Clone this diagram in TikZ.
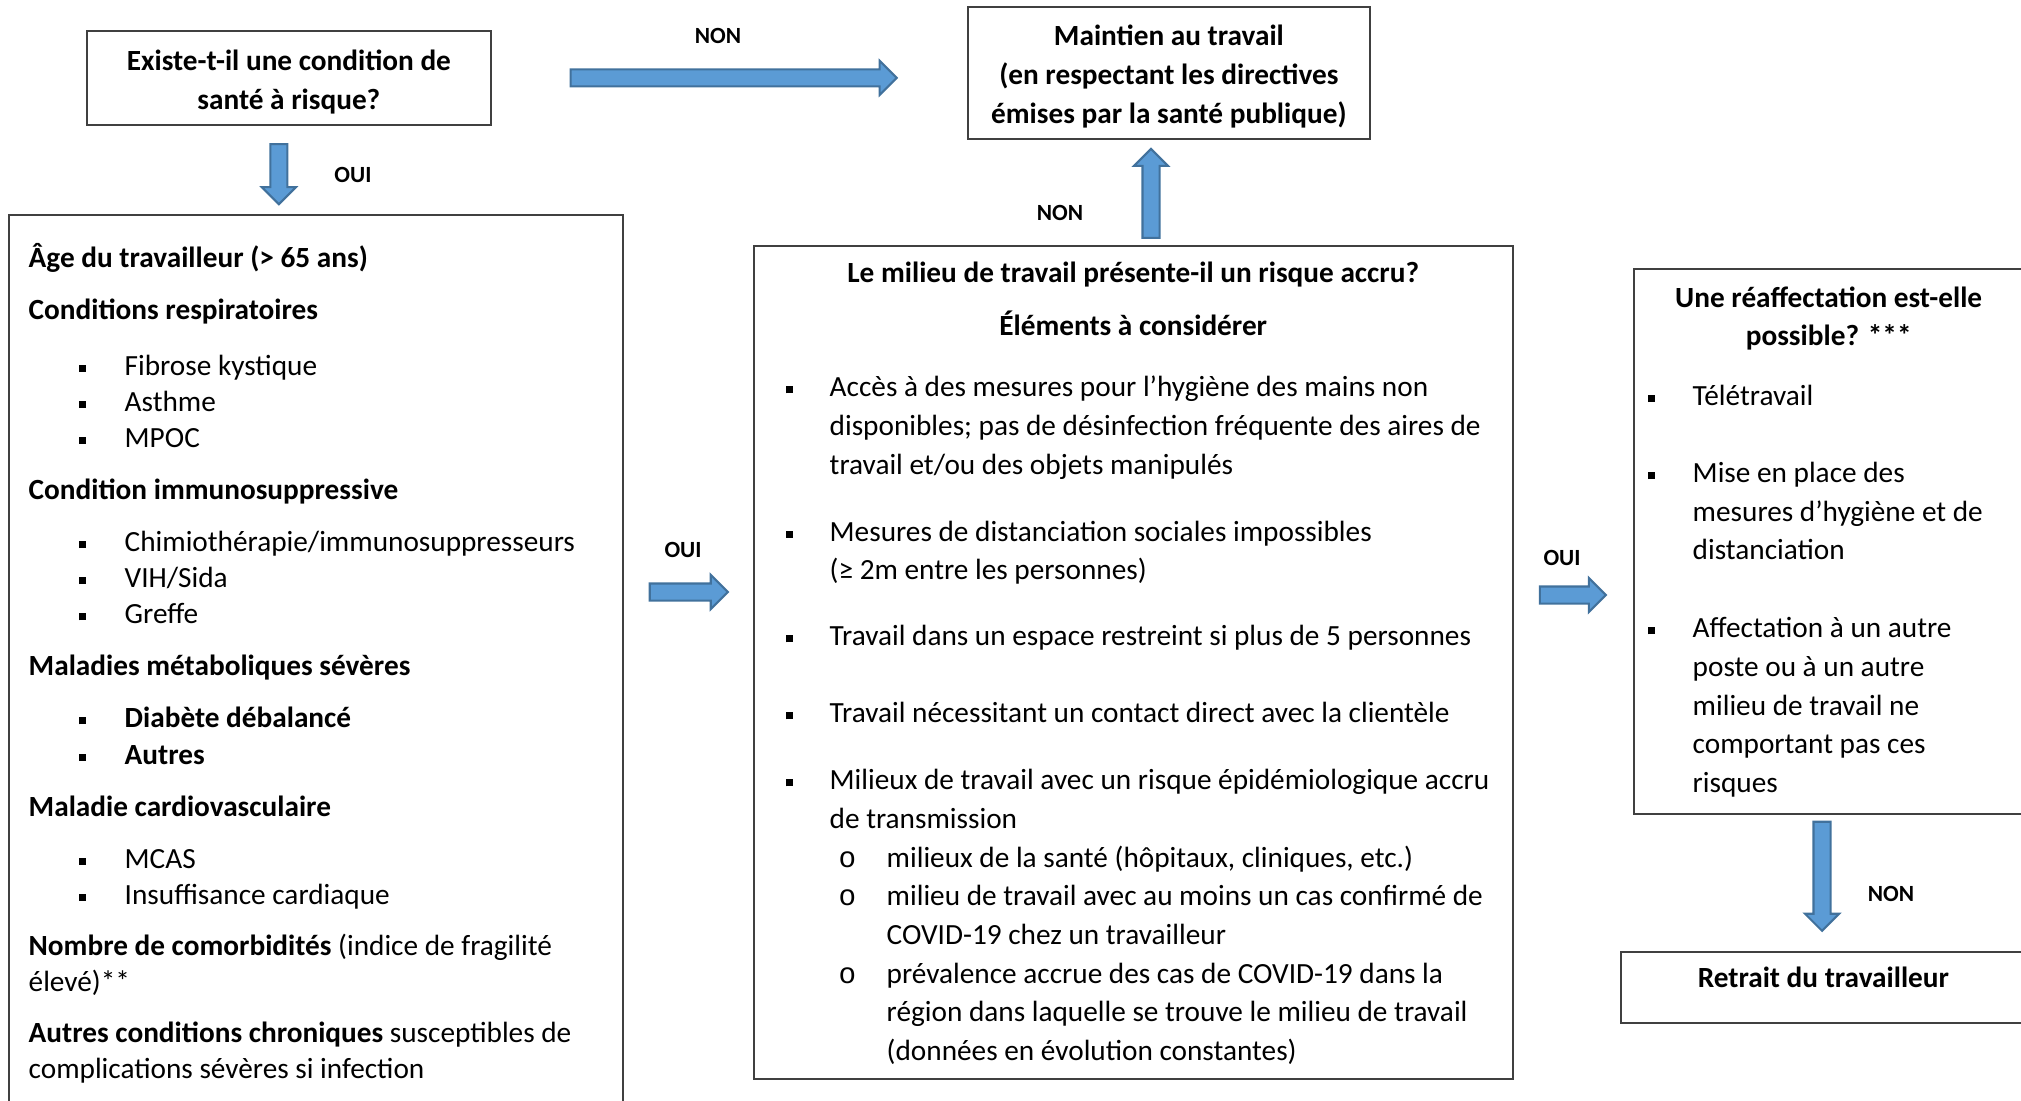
\documentclass[tikz,border=0pt]{standalone}
\usepackage{fontspec}
\setmainfont{Carlito}
\newfontfamily\monofnt{Liberation Mono}
\usetikzlibrary{shapes.arrows}
\definecolor{flblue}{HTML}{5B9BD5}
\definecolor{flline}{HTML}{41719C}
\newcommand{\nsp}{\spaceskip=0pt\xspaceskip=0pt\relax}
\newcommand{\sqb}{\rule[0.35mm]{0.7mm}{0.7mm}}
\newcommand{\itm}[2]{\hspace*{#1}\rlap{\sqb}\hspace*{#2}}
\newcommand{\subitm}[2]{\hspace*{#1}\rlap{\monofnt o}\hspace*{#2}}
\newcommand{\ci}{\itm{5.05mm}{4.55mm}}
\newcommand{\di}{\itm{2.2mm}{4.4mm}}
\newcommand{\ds}{\subitm{7.5mm}{4.8mm}}
\newcommand{\ei}{\itm{0.45mm}{4.45mm}}

\begin{document}
\begin{tikzpicture}[x=1mm,y=-1mm,font=\fontsize{8.33pt}{11pt}\selectfont]
    \tikzstyle{box} = [draw=black!75,line width=0.5pt,inner sep=0pt,anchor=north west]
    \tikzstyle{head} = [font=\fontsize{8.33pt}{11.1pt}\selectfont\bfseries,align=center]
    \tikzstyle{txt} = [inner sep=0pt,anchor=base west,align=left]
    \tikzstyle{farrow} = [single arrow,draw=flline,fill=flblue,line width=0.6pt,inner sep=0pt,inner ysep=0.75mm,single arrow head extend=0.85mm]
    \tikzstyle{lbl} = [font=\fontsize{6.6pt}{8pt}\selectfont\bfseries]
    \useasboundingbox (0,0) rectangle (202.1,110);
    \clip (0,0) rectangle (202.1,110);
    % boxes
    \node [box,head,minimum width=40.4mm,minimum height=9.4mm] (sante) at (8.6,3.0) {\rule{0pt}{2.85mm}Existe-t-il une condition de\\santé à risque?};
    \node [box,head,minimum width=40.2mm,minimum height=13.2mm] (maintien) at (96.7,0.6) {\rule{0pt}{2.85mm}Maintien au travail\\(en respectant les directives\\émises par la santé publique)};
    \node [box,minimum width=61.4mm,minimum height=95mm] (conds) at (0.8,21.4) {};
    \node [box,minimum width=75.9mm,minimum height=83.3mm] (milieu) at (75.3,24.5) {};
    \node [box,minimum width=39.2mm,minimum height=54.5mm] (reaff) at (163.3,26.8) {};
    \node [box,head,minimum width=40.5mm,minimum height=7.1mm,text height=0pt,text depth=0pt] (retrait) at (162.0,95.1) {Retrait du travailleur};
    % box texts
    \node [txt,text width=80mm,font=\fontsize{8.33pt}{10.27pt}\selectfont] (condstxt) at (2.8,26.7) {\nsp
      \textbf{Âge du travailleur (> 65 ans)}\\[1.6mm]
      \textbf{Conditions respiratoires}\\[2.0mm]
      \ci Fibrose kystique\\
      \ci Asthme\\
      \ci MPOC\\[1.6mm]
      \textbf{Condition immunosuppressive}\\[1.6mm]
      \ci Chimiothérapie/immunosuppresseurs\\
      \ci VIH/Sida\\
      \ci Greffe\\[1.6mm]
      \textbf{Maladies métaboliques sévères}\\[1.6mm]
      \ci \textbf{Diabète débalancé}\\
      \ci \textbf{Autres}\\[1.6mm]
      \textbf{Maladie cardiovasculaire}\\[1.6mm]
      \ci MCAS\\
      \ci Insuffisance cardiaque\\[1.5mm]
      \textbf{Nombre de comorbidités} (indice de fragilité\\
      élevé)**\\[1.5mm]
      \textbf{Autres conditions chroniques} susceptibles de\\
      complications sévères si infection};
    \node [txt,text width=95mm] (milieutxt) at (76.3,28.2) {\nsp
      \makebox[73.9mm]{\bfseries Le milieu de travail présente-il un risque accru?}\\[1.53mm]
      \makebox[73.9mm]{\bfseries Éléments à considérer}\\[2.23mm]
      \di Accès à des mesures pour l’hygiène des mains non\\
      \hspace*{6.6mm}disponibles; pas de désinfection fréquente des aires de\\
      \hspace*{6.6mm}travail et/ou des objets manipulés\\[2.83mm]
      \di Mesures de distanciation sociales impossibles\\
      \hspace*{6.6mm}(≥ 2m entre les personnes)\\[2.73mm]
      \di Travail dans un espace restreint si plus de 5 personnes\\[3.83mm]
      \di Travail nécessitant un contact direct avec la clientèle\\[2.83mm]
      \di Milieux de travail avec un risque épidémiologique accru\\
      \hspace*{6.6mm}de transmission\\
      \ds milieux de la santé (hôpitaux, cliniques, etc.)\\
      \ds milieu de travail avec au moins un cas confirmé de\\
      \hspace*{12.3mm}COVID-19 chez un travailleur\\
      \ds prévalence accrue des cas de COVID-19 dans la\\
      \hspace*{12.3mm}région dans laquelle se trouve le milieu de travail\\
      \hspace*{12.3mm}(données en évolution constantes)};
    \node [txt,text width=50mm] (reafftxt) at (164.3,30.7) {\nsp
      \makebox[37mm]{\bfseries Une réaffectation est-elle}\\
      \makebox[37mm]{\bfseries possible? ***}\\[2.13mm]
      \ei Télétravail\\[3.83mm]
      \ei Mise en place des\\
      \hspace*{4.9mm}mesures d’hygiène et de\\
      \hspace*{4.9mm}distanciation\\[3.93mm]
      \ei Affectation à un autre\\
      \hspace*{4.9mm}poste ou à un autre\\
      \hspace*{4.9mm}milieu de travail ne\\
      \hspace*{4.9mm}comportant pas ces\\
      \hspace*{4.9mm}risques};
    % block arrows
    \path (sante.east) -- (sante.east -| maintien.west) node [midway,farrow,minimum height=32.6mm] (n1) {};
    \path ([xshift=-1mm]sante.south) -- ([xshift=-1mm]sante.south |- conds.north) node [midway,farrow,rotate=-90,minimum height=6mm] (o1) {};
    \path (conds.east |- 0,59.2) -- (milieu.west |- 0,59.2) node [pos=0.47,farrow,minimum height=7.8mm] (o2) {};
    \path (milieu.north -| 115.1,0) -- (maintien.south -| 115.1,0) node [pos=0.45,farrow,rotate=90,minimum height=8.9mm] (n2) {};
    \path (milieu.east |- 0,59.5) -- (reaff.west |- 0,59.5) node [pos=0.46,farrow,minimum height=6.6mm] (o3) {};
    \path (reaff.south -| 182.2,0) -- (retrait.north -| 182.2,0) node [pos=0.42,farrow,rotate=-90,minimum height=10.9mm] (n3) {};
    % labels
    \node [lbl] (ln1) at (71.8,3.6) {NON};
    \node [lbl] (lo1) at (35.3,17.5) {OUI};
    \node [lbl] (lo2) at (68.3,55.0) {OUI};
    \node [lbl] (ln2) at (106.0,21.3) {NON};
    \node [lbl] (lo3) at (156.2,55.8) {OUI};
    \node [lbl] (ln3) at (189.1,89.4) {NON};
\end{tikzpicture}
\end{document}
